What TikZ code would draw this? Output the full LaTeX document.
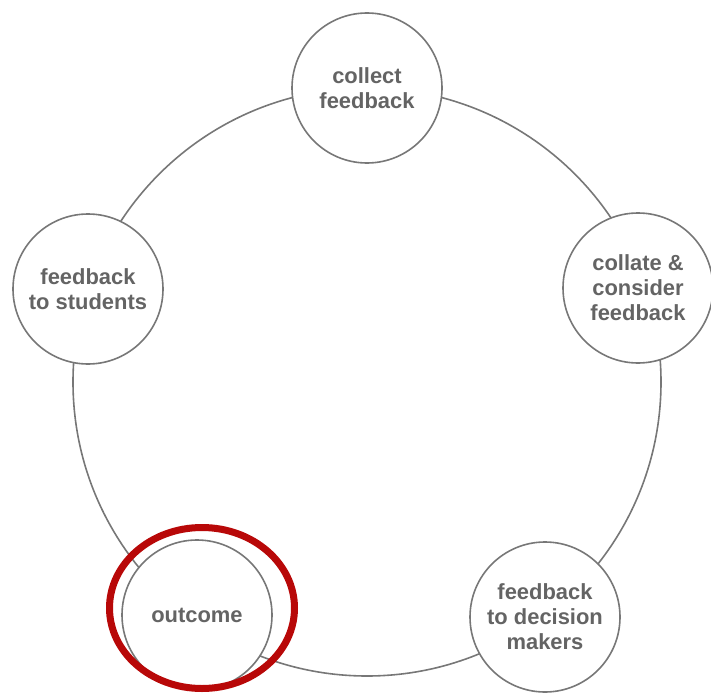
\documentclass[tikz,border=0pt]{standalone}
\usepackage{xcolor}
\usepackage{fontspec}
\setmainfont{Liberation Sans}
\usepackage{tikz}
\definecolor{ringgray}{HTML}{777777}
\definecolor{labelgray}{HTML}{646464}
\definecolor{markred}{HTML}{B80808}
\tikzset{
    stage/.style={circle,draw=ringgray,line width=1.6bp,fill=white,minimum size=150bp,inner sep=0pt,
        align=center,text=labelgray,font=\bfseries\fontsize{22}{25}\selectfont},
    cycle/.style={draw=ringgray,line width=1.6bp},
    highlight/.style={draw=markred,line width=7bp}
}

\begin{document}
\begin{tikzpicture}[x=1bp,y=-1bp]
    \useasboundingbox (0,0) rectangle (711,695);
        \coordinate (hub) at (367,382);
        \draw[cycle] (hub) circle[radius=294];
        \node[stage] (collect) at (367,88) {collect\\feedback};
        \node[stage] (collate) at (638,288) {collate \&\\consider\\feedback};
        \node[stage] (decision) at (545,617) {feedback\\to decision\\makers};
        \node[stage] (outcome) at (197,615) {outcome};
        \node[stage] (students) at (88,289) {feedback\\to students};
        \draw[highlight] (202,608) ellipse[x radius=92.5,y radius=80.5];
    \end{tikzpicture}
\end{document}
